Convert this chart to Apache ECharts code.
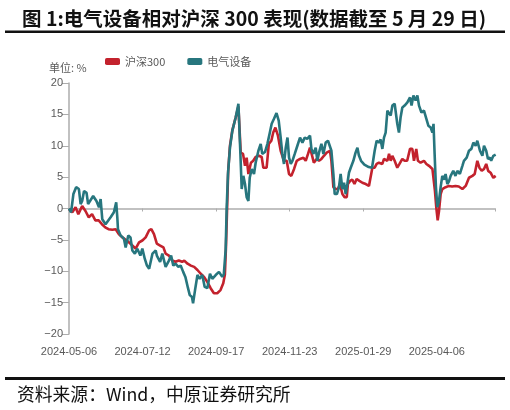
<!DOCTYPE html>
<html><head><meta charset="utf-8">
<script src="https://cdn.jsdelivr.net/npm/echarts@6/dist/echarts.min.js"></script>
<style>html,body{margin:0;padding:0;background:#fff}#c{width:510px;height:410px}</style>
</head><body><div id="c"></div>
<script>
const seriesNames = ['沪深300', '电气设备'];
const xTickLabels = ['2024-05-06','2024-07-12','2024-09-17','2024-11-23','2025-01-29','2025-04-06'];
const xTickStep = 67;   // days between tick labels
const xMaxDay = 388;    // 2025-05-29
const yTicks = [-20, -15, -10, -5, 0, 5, 10, 15, 20];

// [day offset from 2024-05-06, relative performance %]
const hs300 = [[0,-0.1],[3,-0.6],[6,0.2],[8.5,-0.9],[12,0.4],[15,-0.4],[18,-1.4],[21,-0.9],[24,-1.9],[27,-1.9],[30,-2.5],[33,-3.0],[36,-3.3],[39.5,-3.4],[42.5,-3.3],[45.5,-4.1],[48.6,-4.6],[51.6,-5.0],[54.6,-5.4],[57.7,-5.9],[60.7,-6.4],[63.8,-5.4],[66.8,-5.1],[69.8,-4.6],[72.9,-3.5],[75,-3.3],[77.4,-4.1],[80,-5.6],[83,-5.9],[86,-6.2],[88,-7.2],[91,-7.5],[94,-8.3],[97,-8.5],[100,-8.3],[103,-8.5],[105,-8.3],[108,-8.8],[111,-9.1],[114,-9.3],[117,-9.8],[120,-10.4],[123,-10.9],[126,-11.7],[129,-12.7],[132,-13.5],[135,-13.5],[138,-13.0],[140.5,-11.9],[142,-10.5],[143,-6],[144,0],[145,6],[146.6,10],[148.8,12.5],[151.8,14.5],[154.3,16.3],[155,16.5],[156.4,8.9],[158.5,8.7],[160.3,6.8],[161.8,8.1],[163.4,5.5],[165.7,7.3],[167.8,7.6],[170,8.2],[173,8.4],[175.5,8.2],[177,6.5],[180,6.5],[182,10.3],[184.3,10.8],[186,12.1],[188,12.9],[190.3,11.6],[192.8,9.2],[195.8,7.6],[198.3,7.6],[200.4,5.5],[202.5,5.2],[205,6.3],[207.4,7.6],[210.4,7.9],[213.5,8.1],[215.6,7.6],[217.7,8.7],[219.5,9.7],[221,8.7],[223,7.3],[225.7,7.9],[227.7,7.6],[229.9,7.9],[232.2,8.4],[234.7,8.9],[237.7,9.2],[239,7.6],[240.8,3.4],[243,3.1],[245,3.1],[246.8,3.9],[249,2.3],[251,1.8],[253,1.8],[254,3.9],[256,4.4],[258,4.6],[260,3.9],[262,4.7],[264.5,4.4],[267.2,4.1],[270.3,3.9],[273.2,3.6],[276.3,6.5],[278.4,6.5],[280.2,7.1],[282.3,7.3],[283.8,7.6],[285.4,7.1],[286.9,7.9],[288.4,8.1],[290,7.6],[291.5,8.7],[293,7.6],[294.5,8.4],[296.6,7.6],[299,6.5],[301,7.1],[303.6,7.9],[305.7,7.6],[308,7.6],[310.6,9.5],[312.7,9.5],[314.2,7.6],[316.3,9.5],[317.8,7.6],[320.2,7.3],[323.3,7.6],[325.5,7.1],[327.9,6.8],[331,6.3],[332.5,6.0],[333.3,2.8],[334.5,0.2],[335.8,-1.9],[337,-0.4],[338.5,2.3],[340,3.1],[343,3.4],[346,3.6],[349,3.5],[352,3.6],[355,3.5],[358.3,3.1],[361.3,3.6],[364.3,4.9],[367.4,5.2],[369.5,5.5],[371.9,7.6],[373.8,6.5],[375.9,6.0],[378,6.3],[380,7.1],[381.8,6.0],[384,5.7],[386.5,4.9],[388.6,5.2]];

const elec = [[0,0],[1.9,-0.6],[4,2.3],[6.5,3.4],[9,3.1],[10.6,0.7],[12,1.2],[13.7,2.8],[16,2.5],[17.4,0.7],[19,1.0],[22,2.0],[25,1.2],[27.3,0.2],[28.8,1.5],[30.3,-1.7],[33.3,-2.5],[37.9,-1.4],[40.9,-0.6],[43,1.0],[44,-1.4],[44.6,-3.3],[47,-4.3],[50,-4.8],[51.6,-6.2],[54,-4.3],[56,-4.6],[57.7,-6.7],[60,-7.2],[62.2,-6.4],[63.8,-6.2],[65,-7.5],[66.8,-6.4],[69,-8.0],[71,-9.1],[73,-9.6],[76,-7.2],[79,-6.7],[80,-7.5],[83,-8.5],[85,-7.2],[88,-9.3],[91,-8.3],[93,-7.5],[95,-9.1],[97,-8.8],[99.6,-9.3],[101.7,-9.1],[104,-10.1],[106,-10.9],[108.4,-12.7],[110,-13.8],[112,-14.1],[113,-15.1],[114.8,-13.0],[117,-10.6],[119,-11.2],[121.4,-10.6],[123.6,-12.5],[126,-12.7],[128.4,-10.4],[130.5,-11.2],[133.6,-10.6],[136.6,-10.1],[139.6,-10.9],[141,-10.5],[142.7,-6.5],[143.6,0],[144.8,5.5],[146.6,9.7],[148.8,12.4],[151.8,14.5],[154.3,16.7],[154.8,16.9],[156,9.2],[157.3,3.1],[158.8,5.2],[160.3,3.9],[161.8,1.8],[163.4,1.2],[164.6,4.9],[166.4,6.3],[168.5,5.5],[170,7.3],[172.5,9.2],[174.6,10.3],[176,8.7],[178.5,9.0],[180.7,10.3],[182.8,12.0],[184.6,13.5],[186.7,14.3],[189,15.2],[191,14.0],[192.8,11.3],[194.3,8.7],[195.8,7.1],[197.4,9.7],[199,11.3],[200.4,8.1],[202,7.1],[203.5,7.6],[205.6,8.7],[208,10.0],[210.4,11.3],[212.6,10.5],[214.7,11.3],[217,11.1],[219.5,11.6],[220.8,9.5],[222.6,8.7],[224.7,9.7],[226.2,7.6],[227.7,8.9],[229.9,10.3],[231.7,8.7],[233.8,10.5],[235.9,10.8],[237.7,10.8],[239,9.2],[240.8,5.5],[242,2.3],[244,2.3],[245.9,3.4],[247.4,5.5],[249,3.1],[250.5,4.1],[252,2.3],[253.5,3.9],[255,5.7],[256.6,6.5],[259,7.6],[261,8.9],[262.7,9.7],[264,8.5],[266,7.6],[269,7.0],[273,6.6],[276,6.5],[278.4,9.2],[280.2,10.8],[282.3,10.5],[283.8,11.0],[285.4,9.5],[286.9,11.3],[288.4,12.1],[290,15.6],[291.5,15.9],[293,14.8],[294.5,16.4],[296.6,16.7],[299,13.5],[300.5,12.1],[302,14.5],[303.6,16.1],[305.7,16.4],[308.2,16.9],[310.6,17.7],[312,16.4],[313.7,18.0],[315.7,17.2],[317.3,18.0],[318.8,16.4],[321,15.3],[323.3,15.6],[325.5,14.3],[327.3,13.2],[329.4,12.9],[331,12.1],[332,13.5],[333,8.7],[334.2,3.4],[335.5,0.2],[337,1.2],[338.5,3.4],[340,5.2],[341.6,4.6],[343,5.5],[344.6,3.9],[346,4.3],[347.6,5.2],[350,6.0],[352,5.2],[353.7,6.0],[356,5.5],[358.3,6.8],[359.7,7.6],[362.2,8.1],[364.3,9.2],[366.5,9.5],[368.3,10.5],[370.4,10.0],[371.9,10.8],[374.3,9.2],[376.5,8.4],[378,10.0],[380,9.2],[381.6,7.9],[383.5,8.1],[384.5,7.6],[386.5,8.4],[388.6,8.6]];

const colors = ['#C3222D', '#27767E'];
const labelColor = '#595959';
const fontLatin = 'Arial, "Liberation Sans", "Noto Sans CJK SC", sans-serif';
const fontCJK = '"Noto Sans CJK SC", sans-serif';

const chart = echarts.init(document.getElementById('c'), null, {renderer: 'canvas'});
chart.setOption({
  animation: false,
  backgroundColor: '#fff',
  title: {
    text: '图 1:电气设备相对沪深 300 表现(数据截至 5 月 29 日)',
    left: 17, top: 4,
    textStyle: {fontFamily: '"Noto Sans CJK SC", sans-serif', fontWeight: 'bold', fontSize: 19.5, color: '#111'}
  },
  legend: {
    data: seriesNames, top: 51, left: 100,
    itemWidth: 15, itemHeight: 7, itemGap: 22, icon: 'roundRect',
    textStyle: {fontFamily: fontCJK, fontSize: 11, color: labelColor}
  },
  graphic: [
    {type: 'rect', shape: {x: 5, y: 30.5, width: 500, height: 2.5}, style: {fill: '#111'}},
    {type: 'rect', shape: {x: 5, y: 377, width: 500, height: 3}, style: {fill: '#111'}},
    {type: 'text', left: 49, top: 62, style: {text: '单位: %', font: '11px "Noto Sans CJK SC", sans-serif', fill: labelColor}},
    {type: 'text', left: 17, top: 385, style: {text: '资料来源：Wind，中原证券研究所', font: '17.8px "Noto Sans CJK SC", sans-serif', fill: '#111'}}
  ],
  grid: {left: 69, right: 15, top: 83, bottom: 76, containLabel: false},
  xAxis: [
    {type: 'value', min: 0, max: xMaxDay, interval: xTickStep,
     axisLine: {onZero: true, lineStyle: {color: '#ADADAD', width: 1.5}},
     axisTick: {show: true, length: 3, lineStyle: {color: '#ADADAD'}},
     axisLabel: {show: false}, splitLine: {show: false}},
    {type: 'value', min: 0, max: xMaxDay, interval: xTickStep, position: 'bottom',
     axisLine: {show: false, onZero: false}, axisTick: {show: false}, splitLine: {show: false},
     axisLabel: {margin: 12, fontSize: 11, color: labelColor, fontFamily: fontLatin, showMaxLabel: false,
       formatter: v => { const i = Math.round(v / xTickStep); return (v % xTickStep === 0 && xTickLabels[i]) ? xTickLabels[i] : ''; }}}
  ],
  yAxis: {
    type: 'value', min: yTicks[0], max: yTicks[yTicks.length - 1], interval: 5,
    axisLine: {show: true, lineStyle: {color: '#ADADAD', width: 1.5}},
    axisTick: {show: true, inside: false, length: 7, lineStyle: {color: '#ADADAD'}},
    splitLine: {show: false},
    axisLabel: {margin: 6, fontSize: 11, color: labelColor, fontFamily: fontLatin,
      formatter: v => String(v).replace('-', '−')}
  },
  series: [
    {name: seriesNames[0], type: 'line', data: hs300, showSymbol: false, symbol: 'none',
     lineStyle: {color: colors[0], width: 2.6}, itemStyle: {color: colors[0]}, z: 2},
    {name: seriesNames[1], type: 'line', data: elec, showSymbol: false, symbol: 'none',
     lineStyle: {color: colors[1], width: 2.6}, itemStyle: {color: colors[1]}, z: 3}
  ]
});
</script></body></html>
